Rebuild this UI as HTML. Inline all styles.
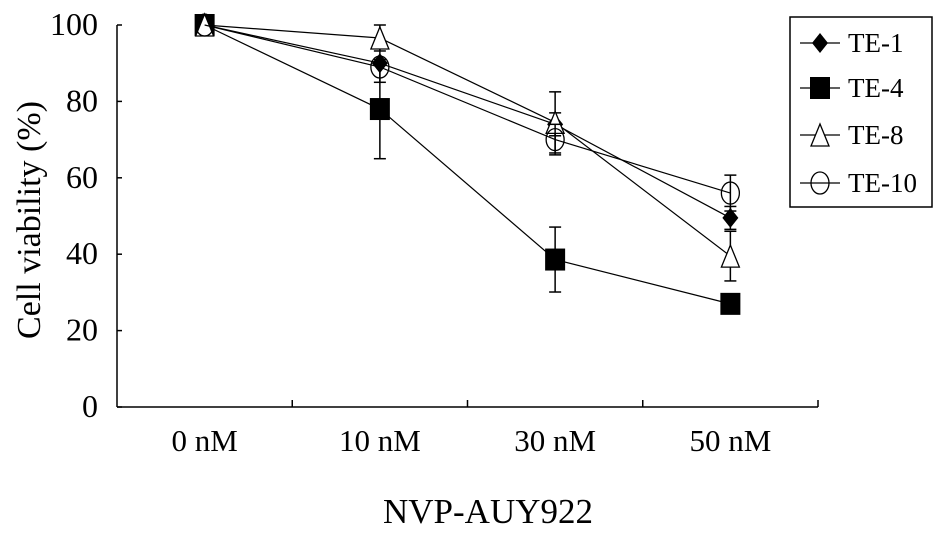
<!DOCTYPE html>
<html><head><meta charset="utf-8"><style>
body{margin:0;background:#fff}
svg{display:block;font-family:"Liberation Serif",serif}
</style></head><body>
<svg id="chart" width="947" height="534">
<g id="axes"></g>
<g id="marks"></g>
<g id="legend"></g>
</svg>
<script>
const categories=["0 nM","10 nM","30 nM","50 nM"];
const yTicks=[0,20,40,60,80,100];
const seriesNames=["TE-1","TE-4","TE-8","TE-10"];
const te1=[100,90,74,49.5];
const te4=[100,78,38.6,27];
const te8=[100,96.6,74.5,39.5];
const te10=[100,89,70,56];
const te1Err=[0,5,3,3];
const te4Err=[0,13,8.5,0];
const te8Err=[0,3.4,8,6.5];
const te10Err=[0,0,4,4.7];
const NS="http://www.w3.org/2000/svg";
const x0=117,x1=818,y0=407,y1=25;
const catX=i=>x0+(i+0.5)*(x1-x0)/categories.length;
const yS=v=>y0-(v/100)*(y0-y1);
function mk(tag,attrs,parent){const e=document.createElementNS(NS,tag);for(const k in attrs)e.setAttribute(k,attrs[k]);parent.appendChild(e);return e;}
const axes=document.getElementById('axes'),marks=document.getElementById('marks'),legend=document.getElementById('legend');
let e=mk('line',{x1:x0,y1:y1,x2:x0,y2:y0,stroke:'#000','stroke-width':1.5},axes);

e=mk('line',{x1:x0,y1:y0,x2:x1,y2:y0,stroke:'#000','stroke-width':1.5},axes);

yTicks.forEach(t=>{
 mk('line',{x1:x0,y1:yS(t),x2:x0+5,y2:yS(t),stroke:'#000','stroke-width':1.5},axes);
 const tx=mk('text',{x:98,y:yS(t)+10,'text-anchor':'end','font-size':32},axes);tx.textContent=t;
 
 
});
for(let i=1;i<=categories.length;i++){const xx=x0+i*(x1-x0)/categories.length;mk('line',{x1:xx,y1:y0,x2:xx,y2:y0-7,stroke:'#000','stroke-width':1.5},axes);}
categories.forEach((c,i)=>{const tx=mk('text',{x:catX(i),y:451,'text-anchor':'middle','font-size':31},axes);tx.textContent=c;
 
 });
let t=mk('text',{x:488,y:523,'text-anchor':'middle','font-size':35},axes);t.textContent='NVP-AUY922';

t=mk('text',{x:0,y:0,'text-anchor':'middle','font-size':34,transform:'translate(40,220) rotate(-90)'},axes);t.textContent='Cell  viability (%)';

function marker(type,x,y,p){
 if(type===0)return mk('polygon',{points:`${x},${y-10} ${x+8},${y} ${x},${y+10} ${x-8},${y}`,fill:'#000'},p);
 if(type===1)return mk('rect',{x:x-10,y:y-11,width:20,height:22,fill:'#000'},p);
 if(type===2)return mk('polygon',{points:`${x},${y-11} ${x+9},${y+11} ${x-9},${y+11}`,fill:'#fff',stroke:'#000','stroke-width':1.3},p);
 return mk('ellipse',{cx:x,cy:y,rx:9,ry:11,fill:'none',stroke:'#000','stroke-width':1.3},p);
}
const all=[te1,te4,te8,te10],errs=[te1Err,te4Err,te8Err,te10Err],slug=['te-1','te-4','te-8','te-10'];
all.forEach((vals,s)=>{
 const g=mk('g',{},marks);
 
 
 mk('polyline',{points:vals.map((v,i)=>catX(i)+','+yS(v)).join(' '),fill:'none',stroke:'#000','stroke-width':1.2},g);
 vals.forEach((v,i)=>{const er=errs[s][i];if(er>0){const x=catX(i);
  mk('line',{x1:x,y1:yS(v+er),x2:x,y2:yS(v-er),stroke:'#000','stroke-width':1.5},g);
  mk('line',{x1:x-6,y1:yS(v+er),x2:x+6,y2:yS(v+er),stroke:'#000','stroke-width':1.5},g);
  mk('line',{x1:x-6,y1:yS(v-er),x2:x+6,y2:yS(v-er),stroke:'#000','stroke-width':1.5},g);}});
 vals.forEach((v,i)=>{const m=marker(s,catX(i),yS(v),g);
  
  });
});
const box=mk('rect',{x:790,y:17,width:142,height:190,fill:'#fff',stroke:'#000','stroke-width':1.5},legend);

const ly=[43,88,135,183];
seriesNames.forEach((n,s)=>{
 const g=mk('g',{},legend);
 
 
 mk('line',{x1:800,y1:ly[s],x2:840,y2:ly[s],stroke:'#000','stroke-width':1.2},g);
 marker(s,820,ly[s],g);
 const tx=mk('text',{x:848,y:ly[s]+9,'font-size':27},g);tx.textContent=n;
});
</script>
</body></html>
